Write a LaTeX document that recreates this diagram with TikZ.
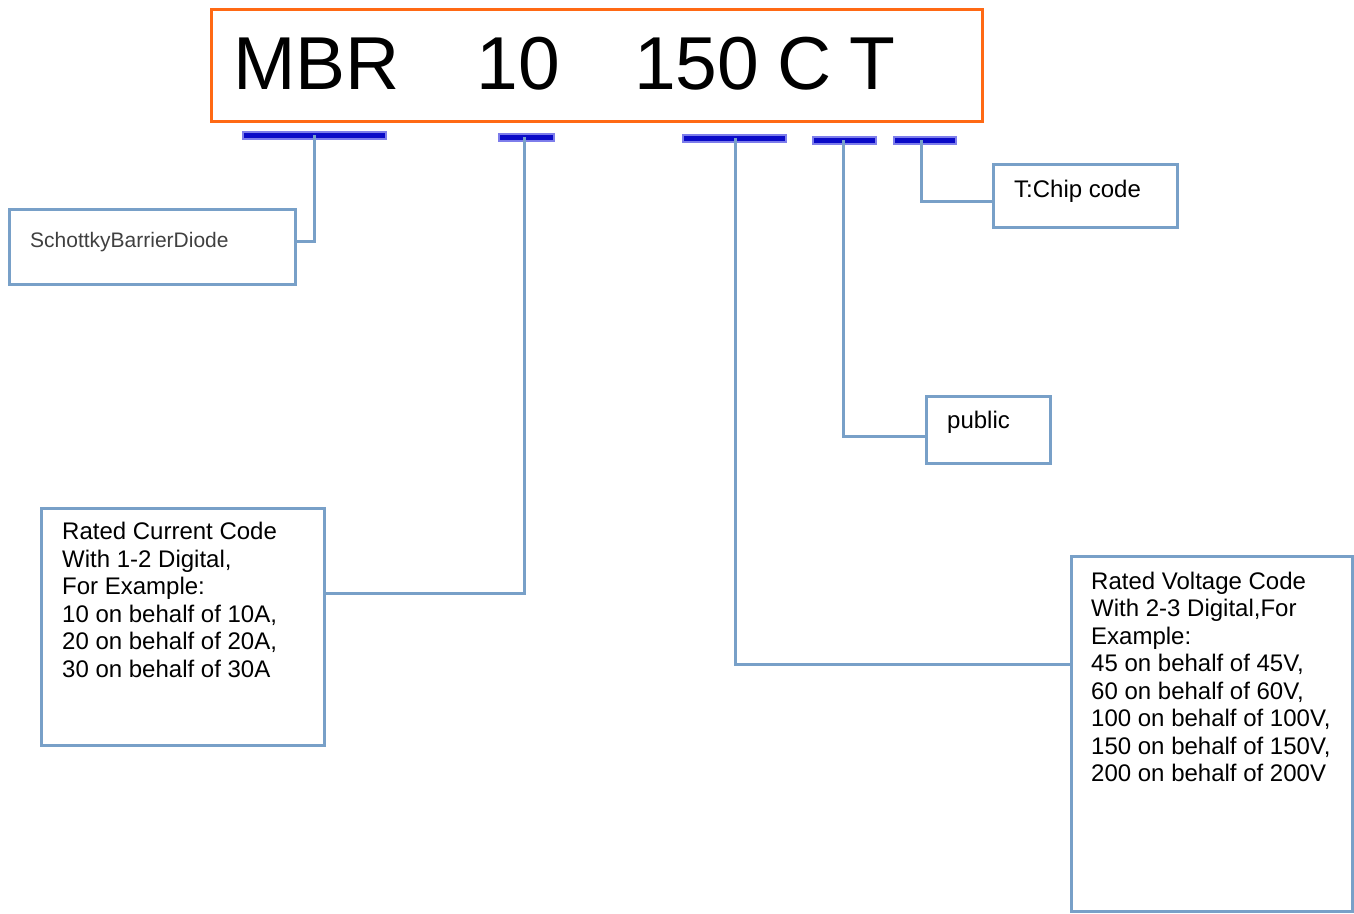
\documentclass[tikz,border=0pt]{standalone}
\usepackage{fontspec}
\setmainfont{Liberation Sans}
\usepackage{tikz}
\usetikzlibrary{positioning}
\definecolor{codeorange}{RGB}{255,105,20}
\definecolor{linkblue}{RGB}{120,160,200}
\definecolor{barblue}{RGB}{10,10,200}
\definecolor{barglow}{RGB}{125,125,235}
\definecolor{labelgray}{RGB}{64,64,64}

\begin{document}
\begin{tikzpicture}[x=1pt, y=-1pt,
  codebox/.style={rectangle, draw=codeorange, line width=3pt, inner sep=0pt, outer sep=0pt,
                  anchor=north west, minimum width=771pt, minimum height=112pt},
  infobox/.style={rectangle, draw=linkblue, line width=3pt, inner sep=0pt, outer sep=0pt,
                  anchor=north west},
  info/.style={inner sep=0pt, align=left, font=\fontsize{24}{27.5}\selectfont},
  bar/.style={rectangle, fill=barblue, draw=barglow, line width=2pt,
              minimum height=7pt, inner sep=0pt},
  link/.style={draw=linkblue, line width=3pt}
]
\useasboundingbox (0,0) rectangle (1354,913);

% part number
\node[codebox] (mbr) at (211,9) {};
\node[anchor=base west, inner sep=0pt, font=\fontsize{75}{80}\selectfont] (code) at (233,89)
  {MBR\hspace{77pt}10\hspace{74pt}150\hspace{18pt}C\hspace{18pt}T};

% markers under the code
\node[bar, minimum width=143pt] (b1) at (314.5,135) {};
\node[bar, minimum width=55pt]  (b2) at (526.5,137) {};
\node[bar, minimum width=103pt] (b3) at (734.5,138) {};
\node[bar, minimum width=63pt]  (b4) at (844.5,140) {};
\node[bar, minimum width=62pt]  (b5) at (925,140) {};

% explanation boxes
\node[infobox, minimum width=286pt, minimum height=75pt]  (sbd)  at (9,209) {};
\node[infobox, minimum width=283pt, minimum height=237pt] (cur)  at (41,508) {};
\node[infobox, minimum width=281pt, minimum height=355pt] (volt) at (1071,556) {};
\node[infobox, minimum width=124pt, minimum height=67pt]  (pub)  at (926,396) {};
\node[infobox, minimum width=184pt, minimum height=63pt]  (chip) at (993,164) {};

\node[info, font=\fontsize{21}{25}\selectfont, text=labelgray,
      below right=23.5pt and 21pt of sbd.north west] (sbdtxt) {SchottkyBarrierDiode};
\node[info, below right=14pt and 21pt of cur.north west] (curtxt)
  {Rated Current Code\\With 1-2 Digital,\\For Example:\\10 on behalf of 10A,\\20 on behalf of 20A,\\30 on behalf of 30A};
\node[info, below right=15.5pt and 20pt of volt.north west] (volttxt)
  {Rated Voltage Code\\With 2-3 Digital,For\\Example:\\45 on behalf of 45V,\\60 on behalf of 60V,\\100 on behalf of 100V,\\150 on behalf of 150V,\\200 on behalf of 200V};
\node[info, below right=14.5pt and 21pt of pub.north west] (pubtxt) {public};
\node[info, below right=15.5pt and 21pt of chip.north west] (chiptxt) {T:Chip code};

% connectors
\draw[link] (b1.center) |- ([yshift=5pt]sbd.east);
\draw[link] ([xshift=-2pt]b2.center) |- ([yshift=33.5pt]cur.east);
\draw[link] ([xshift=1pt]b3.center) |- ([yshift=69.5pt]volt.west);
\draw[link] ([xshift=-1.5pt]b4.center) |- ([yshift=-7pt]pub.west);
\draw[link] ([xshift=-4pt]b5.center) |- ([yshift=-6pt]chip.west);
\end{tikzpicture}
\end{document}
